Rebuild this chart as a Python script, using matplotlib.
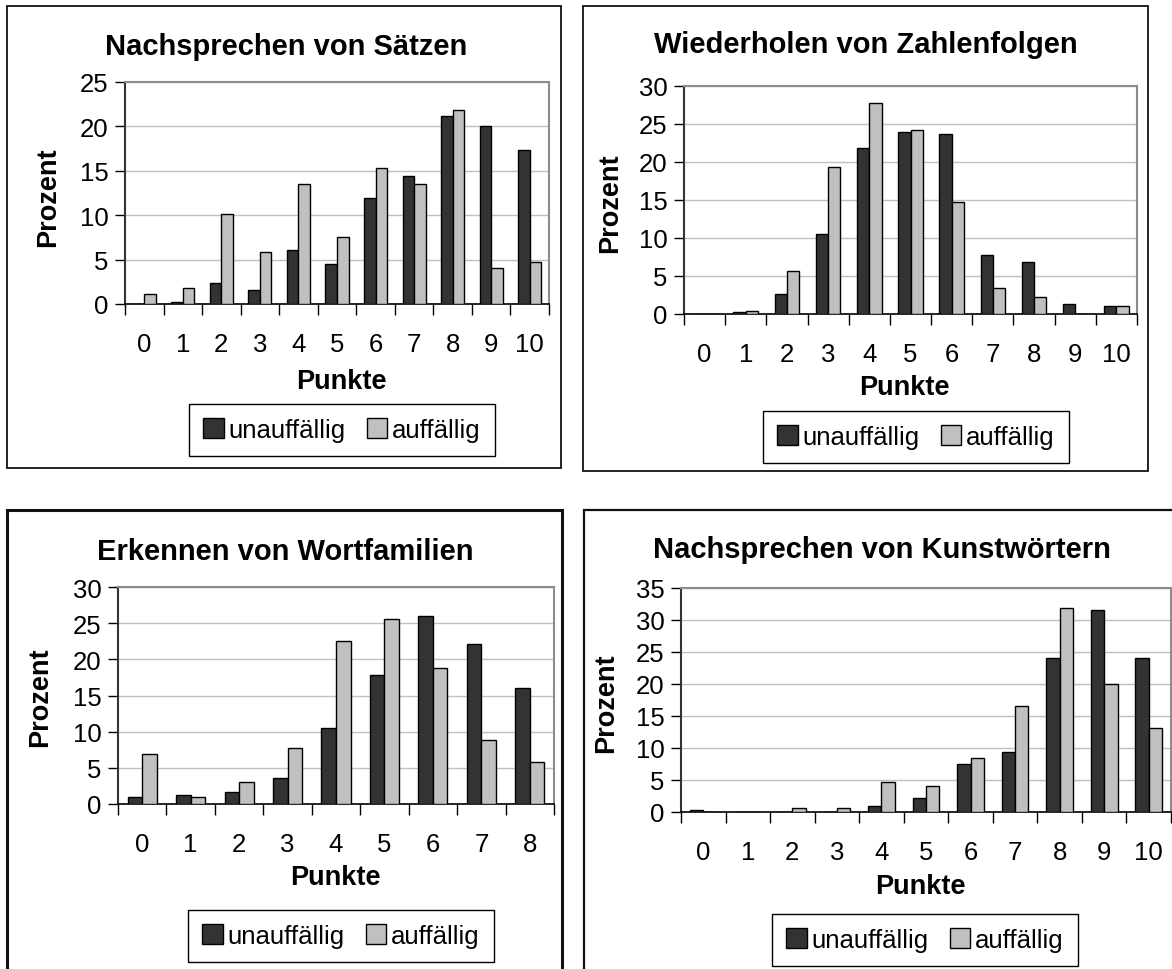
import matplotlib
matplotlib.use("Agg")
import matplotlib.pyplot as plt
from matplotlib.patches import Rectangle
import numpy as np

plt.rcParams["font.family"] = ["Liberation Sans", "DejaVu Sans"]

W, H = 1172, 970
DARK = "#333333"
LIGHT = "#c0c0c0"

# --- Prozentwerte je Punktzahl ---
saetze_unauff = [0.0, 0.2, 2.4, 1.6, 6.1, 4.5, 11.9, 14.4, 21.2, 20.0, 17.3]
saetze_auff = [1.1, 1.8, 10.1, 5.8, 13.5, 7.6, 15.3, 13.5, 21.8, 4.0, 4.7]

zahlen_unauff = [0.0, 0.2, 2.6, 10.5, 21.8, 23.9, 23.7, 7.8, 6.8, 1.3, 1.0]
zahlen_auff = [0.0, 0.4, 5.7, 19.4, 27.8, 24.2, 14.7, 3.4, 2.3, 0.0, 1.0]

wortfam_unauff = [1.0, 1.3, 1.6, 3.6, 10.5, 17.9, 26.0, 22.1, 16.0]
wortfam_auff = [6.9, 1.0, 3.0, 7.7, 22.6, 25.6, 18.8, 8.8, 5.8]

kunst_unauff = [0.3, 0.0, 0.0, 0.0, 0.9, 2.2, 7.5, 9.4, 24.1, 31.5, 24.1]
kunst_auff = [0.0, 0.0, 0.6, 0.6, 4.7, 4.1, 8.4, 16.5, 31.9, 20.0, 13.1]


def fx(x):
    return x / W


def fy(y):
    return 1 - y / H


def panel(fig, frame, area, title, tpos, xlpos, ylpos, legpos,
          unauff, auff, ymax, frame_lw=1.3):
    x0, y0, x1, y1 = frame
    fig.patches.append(Rectangle((fx(x0), fy(y1)), (x1 - x0) / W, (y1 - y0) / H,
                                 transform=fig.transFigure, fill=False,
                                 ec="#111111", lw=frame_lw))
    a0, b0, a1, b1 = area
    ax = fig.add_axes([fx(a0), fy(b1), (a1 - a0) / W, (b1 - b0) / H])

    n = len(unauff)
    x = np.arange(n)
    w = 0.3
    h1 = ax.bar(x - w / 2, unauff, w, color=DARK, edgecolor="black", lw=1,
                label="unauffällig", zorder=3)
    h2 = ax.bar(x + w / 2, auff, w, color=LIGHT, edgecolor="black", lw=1,
                label="auffällig", zorder=3)

    ax.set_xlim(-0.5, n - 0.5)
    ax.set_ylim(0, ymax)
    ax.set_yticks(np.arange(0, ymax + 1, 5))
    ax.yaxis.grid(True, color=LIGHT, lw=1)
    ax.set_axisbelow(True)

    # Excel-artige Teilstriche zwischen den Kategorien
    ax.set_xticks(np.arange(n + 1) - 0.5)
    ax.set_xticklabels([])
    ax.set_xticks(x, minor=True)
    ax.set_xticklabels([str(i) for i in x], minor=True)
    ax.tick_params(axis="x", which="major", length=8, width=1, color="black")
    ax.tick_params(axis="x", which="minor", length=0, pad=20, labelsize=18.5)
    ax.tick_params(axis="y", length=7, width=1, labelsize=18.5, pad=5)

    for s in ("top", "right"):
        ax.spines[s].set_color("#8c8c8c")
        ax.spines[s].set_linewidth(1.5)
    ax.spines["left"].set_color("#333333")
    ax.spines["left"].set_linewidth(1.5)
    ax.spines["bottom"].set_color("black")
    ax.spines["bottom"].set_linewidth(1.2)

    fig.text(fx(tpos[0]), fy(tpos[1]), title, ha="center", va="center",
             fontsize=21, fontweight="bold")
    fig.text(fx(xlpos[0]), fy(xlpos[1]), "Punkte", ha="center", va="center",
             fontsize=19.5, fontweight="bold")
    fig.text(fx(ylpos[0]), fy(ylpos[1]), "Prozent", ha="center", va="center",
             rotation=90, fontsize=19.5, fontweight="bold")

    leg = ax.legend([h1, h2], ["unauffällig", "auffällig"], loc="center",
                    bbox_to_anchor=(fx(legpos[0]), fy(legpos[1])),
                    bbox_transform=fig.transFigure, ncol=2, fontsize=18.5,
                    frameon=True, fancybox=False, framealpha=1,
                    edgecolor="black", handlelength=0.8, handleheight=0.8,
                    handletextpad=0.2, columnspacing=0.8, borderpad=0.55,
                    borderaxespad=0)
    leg.get_frame().set_linewidth(1)
    return ax


fig = plt.figure(figsize=(W / 100, H / 100), dpi=100)

panel(fig, (7, 7, 561, 469), (125, 83, 549, 305),
      "Nachsprechen von Sätzen", (286, 47), (341, 382), (48, 197), (342, 431),
      saetze_unauff, saetze_auff, 25)

panel(fig, (583, 7, 1148, 472), (684, 87, 1137, 315),
      "Wiederholen von Zahlenfolgen", (866, 45), (904, 388), (610, 203), (916, 438),
      zahlen_unauff, zahlen_auff, 30)

panel(fig, (7, 511, 562, 990), (118, 588, 554, 805),
      "Erkennen von Wortfamilien", (285, 552), (335, 878), (40, 697), (341, 937),
      wortfam_unauff, wortfam_auff, 30, frame_lw=2.2)

panel(fig, (584, 511, 1190, 990), (681, 589, 1171, 813),
      "Nachsprechen von Kunstwörtern", (882, 550), (920, 887), (606, 703), (925, 941),
      kunst_unauff, kunst_auff, 35, frame_lw=1.6)

fig.savefig("out.png", dpi=100)
